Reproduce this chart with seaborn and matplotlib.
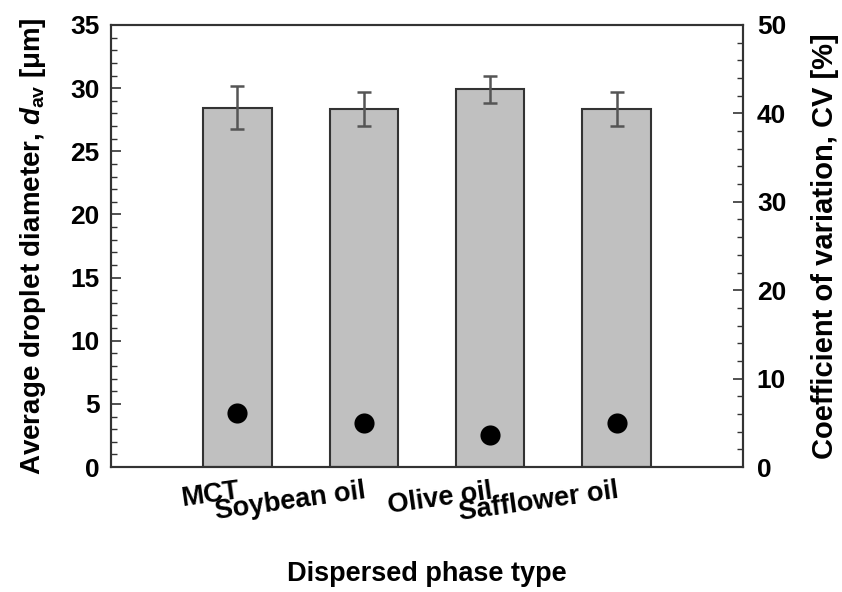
import matplotlib
matplotlib.use("Agg")
import matplotlib.pyplot as plt
import seaborn as sns
import numpy as np
import pandas as pd
from matplotlib.ticker import MultipleLocator

# ---- data ----
categories = ["MCT", "Soybean oil", "Olive oil", "Safflower oil"]
diameter = [28.45, 28.35, 29.9, 28.35]      # average droplet diameter [um]
diameter_sd = [1.7, 1.35, 1.05, 1.35]       # error bars
cv = [6.1, 4.95, 3.65, 4.95]                # coefficient of variation [%]

sns.set_theme(style="white")
plt.rcParams["font.family"] = ["Liberation Sans", "DejaVu Sans"]
plt.rcParams["font.weight"] = "bold"
plt.rcParams["text.color"] = "black"
plt.rcParams["axes.labelcolor"] = "black"
plt.rcParams["xtick.color"] = "black"
plt.rcParams["ytick.color"] = "black"
plt.rcParams["mathtext.fontset"] = "custom"
plt.rcParams["mathtext.rm"] = "Liberation Sans:bold"
plt.rcParams["mathtext.it"] = "Liberation Sans:bold:italic"
plt.rcParams["mathtext.bf"] = "Liberation Sans:bold"

df = pd.DataFrame({"cat": categories, "d": diameter, "sd": diameter_sd, "cv": cv})

fig = plt.figure(figsize=(8.42, 5.92), dpi=100)
ax = fig.add_axes([0.1318, 0.2111, 0.7506, 0.7467])

sns.barplot(data=df, x="cat", y="d", ax=ax, color="#c0c0c0", width=0.54,
            edgecolor="#333333", linewidth=1.5, errorbar=None, saturation=1)
xpos = np.arange(len(categories))
ax.errorbar(xpos, df["d"], yerr=df["sd"], fmt="none", ecolor="#555555",
            elinewidth=1.8, capsize=4.8, capthick=1.8, zorder=5)

ax.set_xlim(-1, len(categories))
ax.set_ylim(0, 35)
ax.yaxis.set_major_locator(MultipleLocator(5))
ax.yaxis.set_minor_locator(MultipleLocator(1))
ax.tick_params(axis="y", which="major", direction="in", length=7, width=1.2,
               color="#333333", labelcolor="black", labelsize=19, left=True, pad=8)
ax.tick_params(axis="y", which="minor", direction="in", length=4, width=1.0,
               color="#333333", left=True)
ax.tick_params(axis="x", length=0, labelsize=19.5, labelcolor="black", pad=8)
ax.set_xticks(xpos)
ax.set_xticklabels(categories, rotation=8, ha="right", va="top",
                   rotation_mode="anchor", fontweight="bold")
for lab in ax.get_yticklabels():
    lab.set_fontweight("bold")

ax.set_ylabel(r"Average droplet diameter, $\mathit{d}_{\mathrm{av}}$ [$\mathrm{\mu}$m]",
              fontsize=20, fontweight="bold", color="black", labelpad=16)
ax.set_xlabel("Dispersed phase type", fontsize=19.5, fontweight="bold", color="black")
ax.xaxis.set_label_coords(0.5, -0.213)

for s in ax.spines.values():
    s.set_color("#333333")
    s.set_linewidth(1.5)

ax2 = ax.twinx()
sns.scatterplot(x=xpos, y=df["cv"], ax=ax2, color="black", s=210,
                edgecolor="black", linewidth=0, zorder=6, legend=False)
ax2.set_ylim(0, 50)
ax2.set_xlim(-1, len(categories))
ax2.yaxis.set_major_locator(MultipleLocator(10))
ax2.yaxis.set_minor_locator(MultipleLocator(2))
ax2.tick_params(axis="y", which="major", direction="in", length=7, width=1.2,
                color="#333333", labelcolor="black", labelsize=19, right=True, pad=10)
ax2.tick_params(axis="y", which="minor", direction="in", length=4, width=1.0,
                color="#333333", right=True)
for lab in ax2.get_yticklabels():
    lab.set_fontweight("bold")
ax2.set_ylabel("Coefficient of variation, CV [%]", fontsize=21,
               fontweight="bold", color="black", labelpad=18)
for s in ax2.spines.values():
    s.set_color("#333333")
    s.set_linewidth(1.5)
ax2.grid(False)
ax.grid(False)

fig.savefig("out.png", dpi=100)
